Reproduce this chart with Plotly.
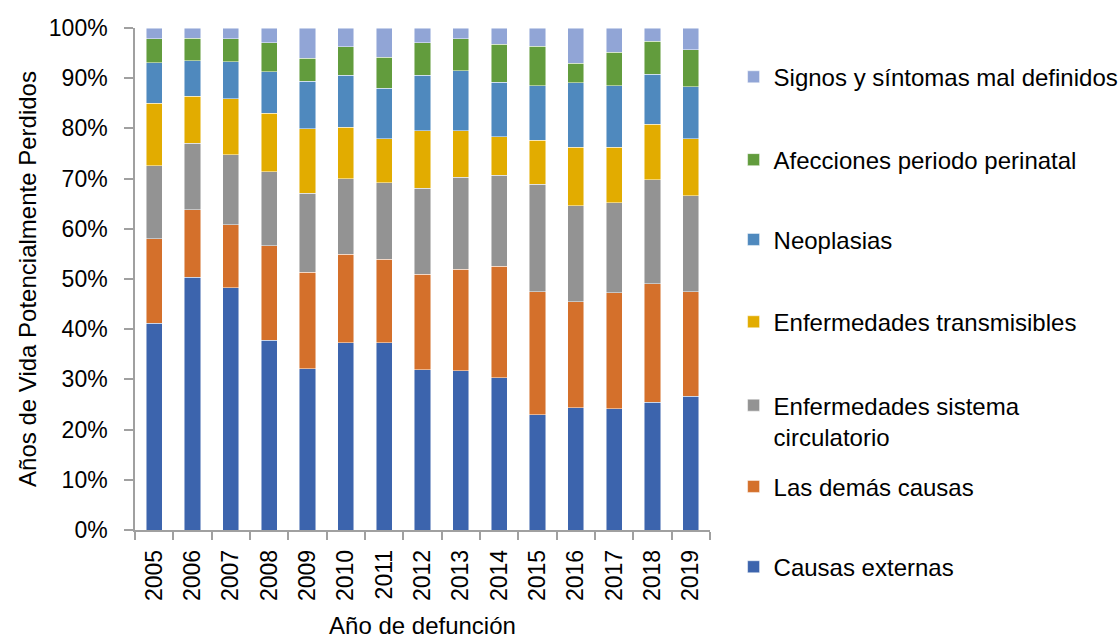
import plotly.graph_objects as go

years = [str(y) for y in range(2005, 2020)]

causas_externas = [41.2, 50.3, 48.3, 37.8, 32.1, 37.3, 37.3, 31.9, 31.7, 30.3, 23.0, 24.4, 24.2, 25.4, 26.6]
las_demas = [16.8, 13.5, 12.5, 18.8, 19.2, 17.6, 16.6, 19.0, 20.2, 22.2, 24.5, 21.1, 23.1, 23.7, 20.9]
sistema_circulatorio = [14.6, 13.2, 14.0, 14.8, 15.8, 15.1, 15.3, 17.2, 18.4, 18.2, 21.4, 19.1, 17.9, 20.7, 19.1]
transmisibles = [12.4, 9.4, 11.1, 11.6, 12.8, 10.2, 8.7, 11.4, 9.2, 7.6, 8.7, 11.6, 11.0, 11.0, 11.3]
neoplasias = [8.1, 7.1, 7.4, 8.3, 9.5, 10.4, 10.1, 11.1, 12.0, 10.9, 10.9, 12.9, 12.3, 10.0, 10.4]
perinatal = [4.8, 4.5, 4.6, 5.8, 4.6, 5.7, 6.2, 6.5, 6.4, 7.6, 7.9, 3.9, 6.7, 6.6, 7.4]
signos = [2.1, 2.0, 2.1, 2.9, 6.0, 3.7, 5.8, 2.9, 2.1, 3.2, 3.6, 7.0, 4.8, 2.6, 4.3]

series_names = [
    "Causas externas",
    "Las demás causas",
    "Enfermedades sistema<br>circulatorio",
    "Enfermedades transmisibles",
    "Neoplasias",
    "Afecciones periodo perinatal",
    "Signos y síntomas mal definidos",
]
series_values = [causas_externas, las_demas, sistema_circulatorio, transmisibles,
                 neoplasias, perinatal, signos]
colors = ["#3C64AD", "#D4702B", "#939393", "#E2AC00", "#4F89BE", "#629C3D", "#91A5D6"]

y_tickvals = list(range(0, 101, 10))
y_ticktext = [f"{v}%" for v in y_tickvals]

FONT = "Liberation Sans, Arial, sans-serif"
TICK_FS = 23
LEG_FS = 24
TITLE_FS = 24

# legend item vertical centres (paper coords)
legend_y = [-0.074, 0.086, 0.217, 0.414, 0.578, 0.737, 0.902]
legend_ids = ["legend", "legend2", "legend3", "legend4", "legend5", "legend6", "legend7"]

fig = go.Figure()
for name, vals, col, lid in zip(series_names, series_values, colors, legend_ids):
    fig.add_trace(go.Bar(
        x=years, y=vals, name=name,
        marker=dict(color=col, line=dict(color="rgba(255,255,255,0.6)", width=0.8)),
        legend=lid,
    ))

layout_legends = {}
for lid, ly in zip(legend_ids, legend_y):
    layout_legends[lid] = dict(
        x=1.041, xanchor="left", y=ly, yanchor="middle",
        font=dict(family=FONT, size=LEG_FS, color="#000000"),
        bgcolor="rgba(0,0,0,0)", valign="top", itemwidth=30,
    )

fig.update_layout(
    barmode="stack",
    bargap=0.58,
    showlegend=True,
    width=1119, height=640,
    margin=dict(l=135, r=409, t=28, b=110, autoexpand=False),
    plot_bgcolor="white", paper_bgcolor="white",
    font=dict(family=FONT, size=TICK_FS, color="#000000"),
    **layout_legends,
)

fig.update_xaxes(
    type="category",
    tickangle=-90,
    tickson="boundaries",
    ticks="outside", ticklen=8, tickwidth=1.5, tickcolor="#A0A0A0",
    showline=True, linecolor="#A0A0A0", linewidth=1.5,
    tickfont=dict(family=FONT, size=TICK_FS),
    ticklabelstandoff=9,
    title=dict(text="Año de defunción", font=dict(family=FONT, size=TITLE_FS), standoff=17),
    showgrid=False, automargin=False,
)
fig.update_yaxes(
    range=[0, 100],
    tickvals=y_tickvals,
    ticktext=y_ticktext,
    ticks="outside", ticklen=9, tickwidth=1.5, tickcolor="#A0A0A0",
    showline=True, linecolor="#A0A0A0", linewidth=1.5,
    tickfont=dict(family=FONT, size=TICK_FS),
    ticklabelstandoff=12,
    title=dict(text="Años de Vida Potencialmente Perdidos", font=dict(family=FONT, size=TITLE_FS), standoff=5),
    showgrid=False, zeroline=False, automargin=False,
)

fig.write_html("out.html", config={"displayModeBar": False},
               post_script="document.body.style.margin='0';")
